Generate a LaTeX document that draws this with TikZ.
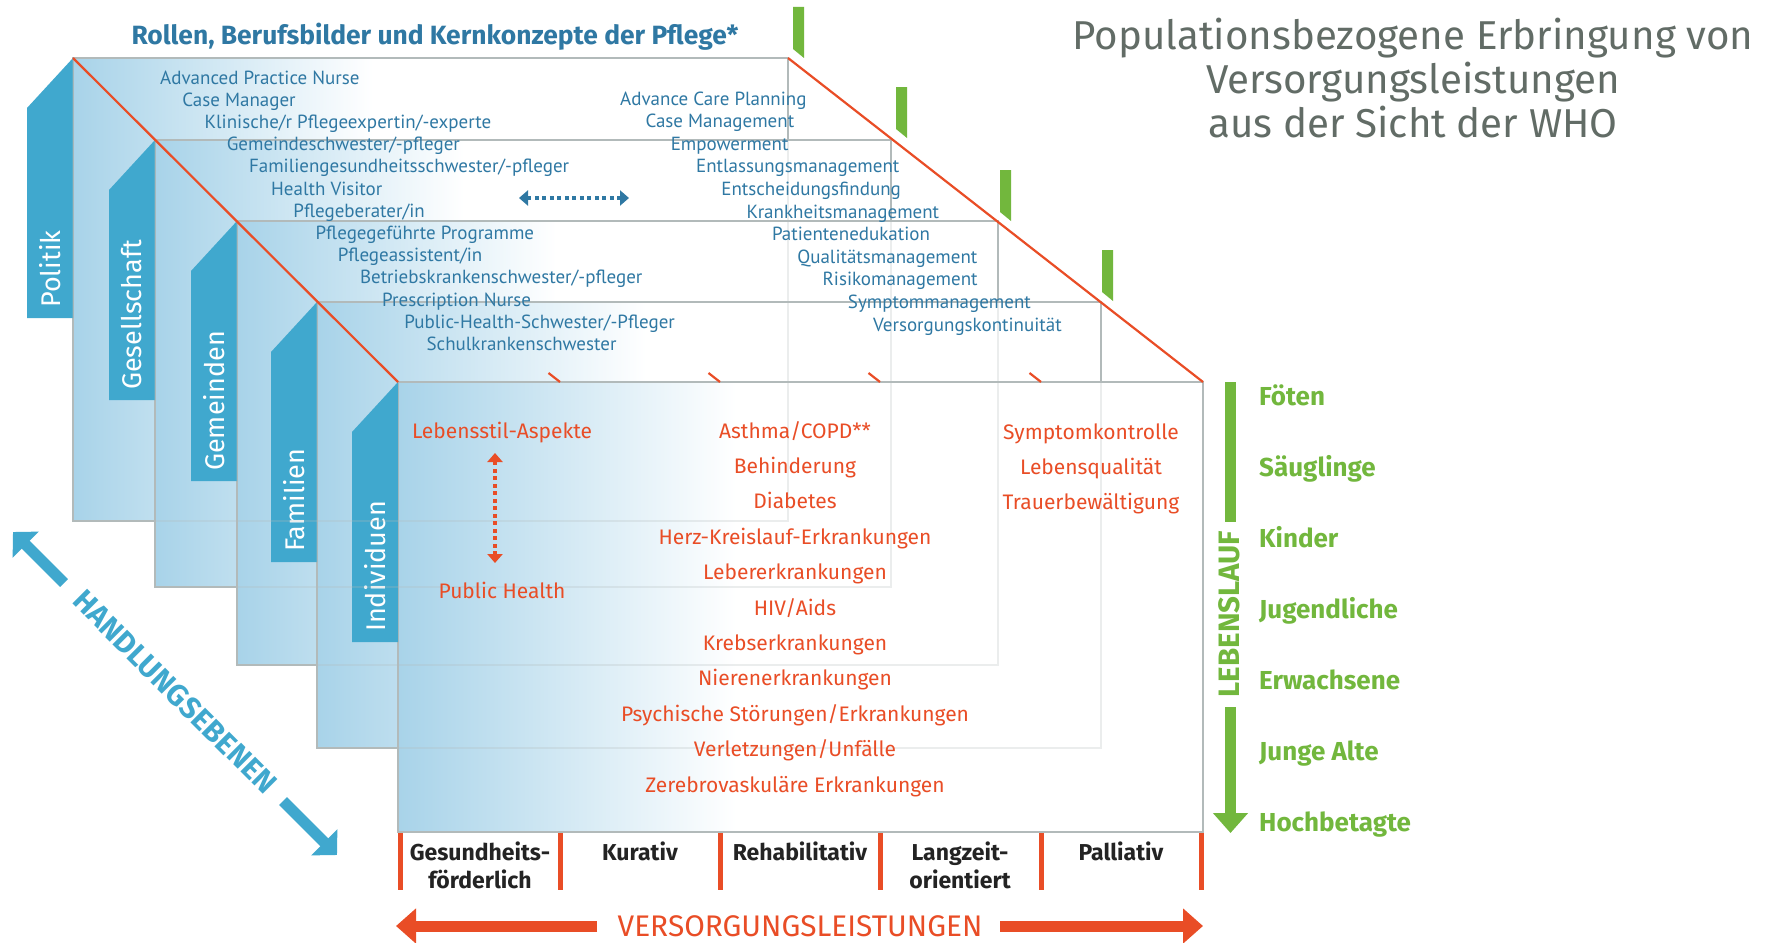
\documentclass[tikz,border=0pt]{standalone}
\usepackage{fontspec}
\setmainfont{Fira Sans}
\newfontfamily\rolefont{PT Sans}
\usetikzlibrary{arrows.meta}
\definecolor{TabClr}{RGB}{64,168,206}
\definecolor{PanelClr}{RGB}{168,211,233}
\definecolor{EdgeClr}{RGB}{178,186,186}
\definecolor{RoleClr}{RGB}{47,120,163}
\definecolor{CareClr}{RGB}{233,77,38}
\definecolor{LifeClr}{RGB}{114,183,61}
\definecolor{TitleClr}{RGB}{98,108,102}
\definecolor{CatClr}{RGB}{35,35,35}
\pgfdeclarehorizontalshading{panelfade}{100bp}{color(0bp)=(PanelClr); color(25bp)=(PanelClr); color(46bp)=(white); color(100bp)=(white)}

\tikzset{
  panel/.style={shading=panelfade,draw=EdgeClr,line width=1.3pt},
  tabtext/.style={rotate=90,anchor=west,inner sep=0pt,text=white,font=\fontsize{27}{27}\selectfont},
  roletext/.style={anchor=mid west,inner sep=0pt,text=RoleClr,font=\rolefont\fontsize{19}{19}\selectfont},
  caretext/.style={anchor=mid,inner sep=0pt,text=CareClr,font=\fontsize{21}{21}\selectfont},
  cattext/.style={align=center,inner sep=0pt,text=CatClr,font=\bfseries\fontsize{23}{28}\selectfont},
  agetext/.style={anchor=mid west,inner sep=0pt,text=LifeClr,font=\bfseries\fontsize{26}{26}\selectfont},
  redline/.style={CareClr,line width=2.2pt},
  dotarrow/.style={line width=4pt,dash pattern=on 4pt off 3.5pt,{Triangle[length=9pt,width=15pt]}-{Triangle[length=9pt,width=15pt]}},
  bigarrow/.style={line width=11pt,-{Triangle[length=20pt,width=34pt]}}
}

\begin{document}
\begin{tikzpicture}[x=1pt,y=-1pt]
\useasboundingbox (0,0) rectangle (1766,942);
\fill[white] (0,0) rectangle (1766,942);

% the five levels, back to front
\foreach \L/\T/\R/\B/\nm/\lbl in {73/58/788/521/pol/Politik,155/140/891/587/ges/Gesellschaft,
    237/221/998/665/gem/Gemeinden,317/302/1101/748/fam/Familien,398/382/1203/832/ind/Individuen}{
  \shadedraw[panel] (\L,\T) rectangle (\R,\B);
  \fill[TabClr] (\L-46,\T+50) -- (\L,\T) -- (\L,\T+260) -- (\L-46,\T+260) -- cycle;
  \node[tabtext] (\nm) at (\L-23,\T+250) {\lbl};
  \coordinate (\nm TL) at (\L,\T);
  \coordinate (\nm TR) at (\R,\T);
}
% faint edges seen through the front levels
\foreach \L/\T/\R/\B in {73/58/788/521,155/140/891/587,237/221/998/665,317/302/1101/748}
  \draw[EdgeClr,line width=1.2pt,opacity=.25] (\L,\T) rectangle (\R,\B);

\draw[redline] (polTL) -- (indTL);
\draw[redline] (polTR) -- (indTR);
\foreach \x in {560,720,880,1041}
  \draw[redline] (\x-11.5,373) -- (\x,382);

% life course marks
\foreach \x/\y in {793/58,896/138,1000/221,1102/301}
  \fill[LifeClr] (\x,\y-51) -- (\x+11,\y-51) -- (\x+11,\y) -- (\x,\y-9) -- cycle;
\fill[LifeClr] (1225,382) rectangle (1236,522);
\coordinate (llA) at (1230.5,707);
\coordinate (llB) at (1230.5,833);
\draw[bigarrow,LifeClr] (llA) -- (llB);
\node[rotate=90,inner sep=0pt,text=LifeClr,font=\bfseries\fontsize{29.5}{29.5}\selectfont] (ll) at (1229,614) {LEBENSLAUF};
\foreach \t [count=\i from 0] in {Föten,Säuglinge,Kinder,Jugendliche,Erwachsene,Junge Alte,Hochbetagte}
  \node[agetext] (age\i) at (1259,402.5+71*\i) {\t};

% roles and concepts
\node[inner sep=0pt,text=RoleClr,font=\bfseries\fontsize{26.4}{26.4}\selectfont] (roles) at (435,37) {Rollen, Berufsbilder und Kernkonzepte der Pflege*};
\foreach \t [count=\i from 0] in {Advanced Practice Nurse,Case Manager,Klinische/r Pflegeexpertin/-experte,
    Gemeindeschwester/-pfleger,Familiengesundheitsschwester/-pfleger,Health Visitor,Pflegeberater/in,
    Pflegegeführte Programme,Pflegeassistent/in,Betriebskrankenschwester/-pfleger,Prescription Nurse,
    Public-Health-Schwester/-Pfleger,Schulkrankenschwester}
  \node[roletext] (role\i) at (160+22.2*\i,81.5+22.2*\i) {\t};
\foreach \t [count=\i from 0] in {Advance Care Planning,Case Management,Empowerment,Entlassungsmanagement,
    Entscheidungsfindung,Krankheitsmanagement,Patientenedukation,Qualitätsmanagement,Risikomanagement,
    Symptommanagement,Versorgungskontinuität}
  \node[roletext] (con\i) at (620+25.3*\i,102.5+22.6*\i) {\t};
\coordinate (rdA) at (519,198);
\coordinate (rdB) at (629,198);
\draw[dotarrow,RoleClr] (rdA) -- (rdB);

% care contents
\node[caretext] (life) at (502,435.5) {Lebensstil-Aspekte};
\node[caretext] (ph) at (502,595.5) {Public Health};
\coordinate (phA) at (495,453);
\coordinate (phB) at (495,563);
\draw[dotarrow,CareClr] (phA) -- (phB);
\foreach \t [count=\i from 0] in {Asthma/COPD**,Behinderung,Diabetes,Herz-Kreislauf-Erkrankungen,
    Lebererkrankungen,HIV/Aids,Krebserkrankungen,Nierenerkrankungen,Psychische Störungen/Erkrankungen,
    Verletzungen/Unfälle,Zerebrovaskuläre Erkrankungen}
  \node[caretext] (dis\i) at (795,435.5+35.4*\i) {\t};
\foreach \t [count=\i from 0] in {Symptomkontrolle,Lebensqualität,Trauerbewältigung}
  \node[caretext] (pal\i) at (1091,436.5+35*\i) {\t};

% kinds of care
\foreach \x in {400,560,720,880,1041,1201}
  \fill[CareClr] (\x-2.5,833) rectangle (\x+2.5,890);
\node[cattext] (cat1) at (480,865) {Gesundheits-\\förderlich};
\node[cattext] (cat2) at (640,851) {Kurativ};
\node[cattext] (cat3) at (800,851) {Rehabilitativ};
\node[cattext] (cat4) at (960,865) {Langzeit-\\orientiert};
\node[cattext] (cat5) at (1121,851) {Palliativ};

\node[inner sep=0pt,text=CareClr,font=\fontsize{29.8}{29.8}\selectfont] (vl) at (800,926) {VERSORGUNGSLEISTUNGEN};
\coordinate (vlA) at (597,926);
\coordinate (vlB) at (396,926);
\coordinate (vlC) at (1000,926);
\coordinate (vlD) at (1203,926);
\draw[bigarrow,CareClr] (vlA) -- (vlB);
\draw[bigarrow,CareClr] (vlC) -- (vlD);

% levels of action
\node[rotate=-45,inner sep=0pt,text=TabClr,font=\bfseries\fontsize{30}{30}\selectfont] (hl) at (175,692) {HANDLUNGSEBENEN};
\coordinate (hlA) at (64,583);
\coordinate (hlB) at (13,532);
\coordinate (hlC) at (283,801);
\coordinate (hlD) at (337,855);
\draw[bigarrow,TabClr,-{Triangle[length=18pt,width=36pt]}] (hlA) -- (hlB);
\draw[bigarrow,TabClr,-{Triangle[length=18pt,width=36pt]}] (hlC) -- (hlD);

\node[align=center,inner sep=0pt,text=TitleClr,font=\fontsize{40.3}{44}\selectfont] (who) at (1413,78)
  {Populationsbezogene Erbringung von\\Versorgungsleistungen\\aus der Sicht der WHO};
\end{tikzpicture}
\end{document}
